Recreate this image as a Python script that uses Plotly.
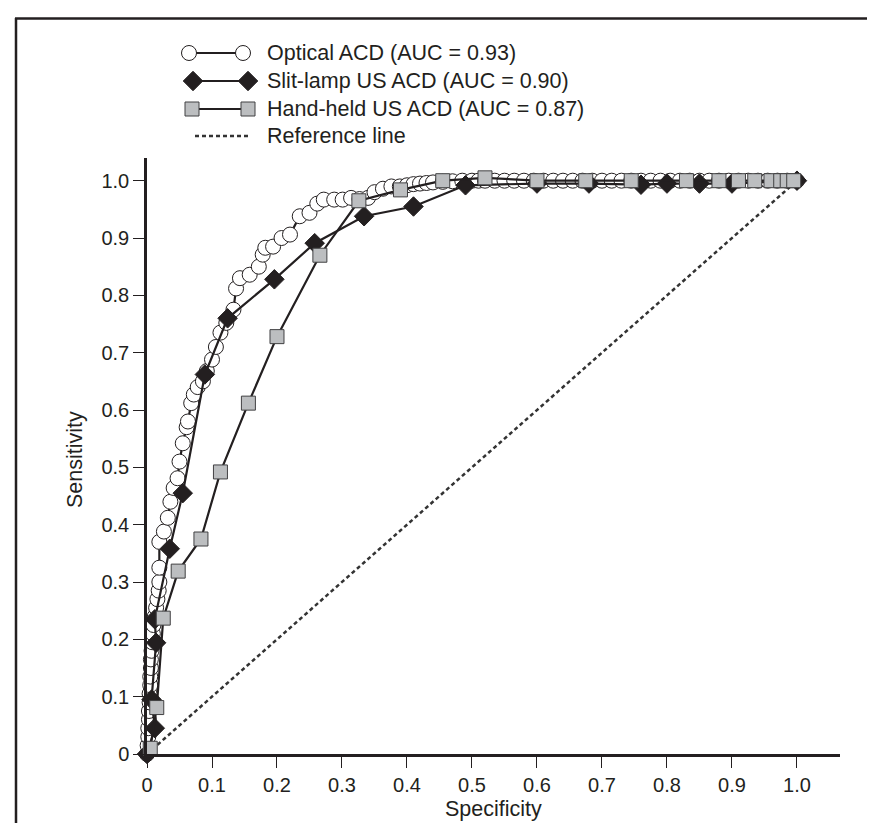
import plotly.graph_objects as go

# ---------------- data ----------------
optical_x = [0.0, 0.001, 0.002, 0.002, 0.003, 0.003, 0.004, 0.004, 0.005, 0.005, 0.006, 0.006,
             0.007, 0.008, 0.009, 0.010, 0.012, 0.014, 0.016, 0.018, 0.019, 0.019, 0.019,
             0.026, 0.032, 0.036, 0.041, 0.047, 0.050, 0.055, 0.061, 0.063, 0.068, 0.072,
             0.078, 0.086, 0.092, 0.100, 0.106, 0.113, 0.122, 0.133, 0.137, 0.143, 0.158,
             0.172, 0.178, 0.182, 0.194, 0.207, 0.220, 0.235, 0.250, 0.262, 0.272, 0.288,
             0.301, 0.314, 0.327, 0.340, 0.350, 0.363, 0.376, 0.389,
             0.400, 0.410, 0.420, 0.430, 0.440, 0.455, 0.470, 0.485, 0.500, 0.510, 0.520,
             0.535, 0.550, 0.565, 0.580, 0.595, 0.610, 0.625, 0.640, 0.655, 0.670, 0.685,
             0.700, 0.715, 0.730, 0.745, 0.760, 0.775, 0.790, 0.805, 0.820, 0.835, 0.850,
             0.865, 0.880, 0.895, 0.910, 0.925, 0.940, 0.955, 0.970, 0.985, 1.000]
optical_y = [0.0, 0.015, 0.030, 0.045, 0.060, 0.075, 0.090, 0.105, 0.120, 0.135, 0.150, 0.165,
             0.180, 0.195, 0.210, 0.225, 0.240, 0.255, 0.270, 0.285, 0.300, 0.325, 0.370,
             0.388, 0.412, 0.440, 0.464, 0.481, 0.510, 0.542, 0.570, 0.580, 0.612, 0.627,
             0.640, 0.650, 0.668, 0.688, 0.710, 0.735, 0.752, 0.775, 0.812, 0.830, 0.836,
             0.850, 0.871, 0.883, 0.885, 0.900, 0.906, 0.938, 0.944, 0.960, 0.967, 0.967,
             0.967, 0.970, 0.968, 0.970, 0.980, 0.986, 0.990, 0.990,
             0.992, 0.994, 0.995, 0.996, 0.997, 0.998, 0.999, 1.000, 1.000, 1.000, 1.000,
             1.000, 1.000, 1.000, 1.000, 1.000, 1.000, 1.000, 1.000, 1.000, 1.000, 1.000,
             1.000, 1.000, 1.000, 1.000, 1.000, 1.000, 1.000, 1.000, 1.000, 1.000, 1.000,
             1.000, 1.000, 1.000, 1.000, 1.000, 1.000, 1.000, 1.000, 1.000, 1.000]

slit_x = [0.0, 0.012, 0.007, 0.014, 0.012, 0.035, 0.055, 0.089, 0.124, 0.196, 0.258, 0.334,
          0.410, 0.490, 0.600, 0.680, 0.760, 0.800, 0.850, 0.900, 1.000]
slit_y = [0.0, 0.045, 0.095, 0.194, 0.235, 0.358, 0.455, 0.662, 0.760, 0.828, 0.891, 0.938,
          0.955, 0.992, 0.995, 0.995, 0.993, 0.995, 0.995, 0.995, 1.000]

hand_x = [0.005, 0.015, 0.025, 0.048, 0.083, 0.113, 0.156, 0.200, 0.266, 0.326, 0.390,
          0.455, 0.520, 0.600, 0.675, 0.745, 0.830, 0.880, 0.910, 0.935, 0.960, 0.975,
          0.985, 0.995]
hand_y = [0.010, 0.081, 0.237, 0.319, 0.375, 0.492, 0.612, 0.728, 0.870, 0.965, 0.984,
          1.000, 1.005, 1.000, 1.000, 1.000, 1.000, 1.000, 1.000, 1.000, 1.000, 1.000,
          1.000, 1.000]

ref_x = [0.0, 1.0]
ref_y = [0.0, 1.0]

tick_vals = [0, 0.1, 0.2, 0.3, 0.4, 0.5, 0.6, 0.7, 0.8, 0.9, 1.0]
tick_text = ["0", "0.1", "0.2", "0.3", "0.4", "0.5", "0.6", "0.7", "0.8", "0.9", "1.0"]

legend_labels = ["Optical ACD (AUC = 0.93)", "Slit-lamp US ACD (AUC = 0.90)",
                 "Hand-held US ACD (AUC = 0.87)", "Reference line"]

# ---------------- style ----------------
W, H = 875, 823
INK = "#231f20"
FONT = "Liberation Sans, Arial, Helvetica, sans-serif"

circle_marker = dict(symbol="circle", size=15, color="white", line=dict(color=INK, width=1))
diamond_marker = dict(symbol="diamond", size=15, color=INK, line=dict(color=INK, width=1))
square_marker = dict(symbol="square", size=14, color="#bcbec0", line=dict(color="#414042", width=1))
line_style = dict(color=INK, width=2.2)
dash_style = dict(color="#333333", width=2.5, dash="4px,3px")

fig = go.Figure()

fig.add_trace(go.Scatter(x=ref_x, y=ref_y, mode="lines", line=dash_style,
                         showlegend=False, cliponaxis=False))
fig.add_trace(go.Scatter(x=optical_x, y=optical_y, mode="lines+markers", line=line_style,
                         marker=circle_marker, showlegend=False, cliponaxis=False))
fig.add_trace(go.Scatter(x=slit_x, y=slit_y, mode="lines+markers", line=line_style,
                         marker=diamond_marker, showlegend=False, cliponaxis=False))
fig.add_trace(go.Scatter(x=hand_x, y=hand_y, mode="lines+markers", line=line_style,
                         marker=square_marker, showlegend=False, cliponaxis=False))

# ---------------- custom legend (pixel overlay axes) ----------------
rows = [45, 73, 101, 128]
glyphs = [(181, 235, circle_marker), (185, 240, diamond_marker), (184, 240, square_marker)]
for r, (xa, xb, mk) in zip(rows[:3], glyphs):
    fig.add_trace(go.Scatter(x=[xa, xb], y=[r, r], mode="lines+markers", line=line_style,
                             marker=mk, xaxis="x2", yaxis="y2", showlegend=False,
                             hoverinfo="skip", cliponaxis=False))
fig.add_trace(go.Scatter(x=[187, 240], y=[rows[3], rows[3]], mode="lines", line=dash_style,
                         xaxis="x2", yaxis="y2", showlegend=False, hoverinfo="skip",
                         cliponaxis=False))

annotations = []
for r, lab in zip(rows, legend_labels):
    annotations.append(dict(x=257, y=r, xref="x2", yref="y2", text=lab, showarrow=False,
                            xanchor="left", yanchor="middle",
                            font=dict(family=FONT, size=21.5, color=INK)))
# axis titles
annotations.append(dict(x=485 / W, y=1 - 801 / H, xref="paper", yref="paper", text="Specificity",
                        showarrow=False, xanchor="center", yanchor="middle",
                        font=dict(family=FONT, size=21.5, color=INK)))
annotations.append(dict(x=67 / W, y=1 - 452 / H, xref="paper", yref="paper", text="Sensitivity",
                        showarrow=False, textangle=-90, xanchor="center", yanchor="middle",
                        font=dict(family=FONT, size=21.5, color=INK)))

shapes = [
    dict(type="line", xref="paper", yref="paper", x0=7 / W, x1=1.0, y0=1 - 10.5 / H, y1=1 - 10.5 / H,
         line=dict(color=INK, width=2.5)),
    dict(type="line", xref="paper", yref="paper", x0=8 / W, x1=8 / W, y0=0, y1=1 - 10 / H,
         line=dict(color=INK, width=2.5)),
]

axis_common = dict(showgrid=False, zeroline=False, showline=True, linecolor=INK, linewidth=2.5,
                   ticks="outside", ticklen=11, tickwidth=1, tickcolor=INK,
                   tickvals=tick_vals, ticktext=tick_text, automargin=False,
                   tickfont=dict(family=FONT, size=20, color=INK))

fig.update_layout(
    width=W, height=H,
    margin=dict(l=0, r=0, t=0, b=0, pad=0),
    paper_bgcolor="white", plot_bgcolor="rgba(0,0,0,0)",
    template="none",
    showlegend=False,
    xaxis=dict(domain=[139 / W, 832 / W], range=[0, 1.0662], anchor="y", **axis_common),
    yaxis=dict(domain=[(H - 746) / H, (H - 150) / H], range=[0, 1.0396], anchor="x", **axis_common),
    xaxis2=dict(domain=[0, 1], range=[0, W], visible=False, anchor="y2", fixedrange=True),
    yaxis2=dict(domain=[0, 1], range=[H, 0], visible=False, anchor="x2", fixedrange=True),
    annotations=annotations,
    shapes=shapes,
    font=dict(family=FONT, color=INK),
)

fig.write_html("out.html")
